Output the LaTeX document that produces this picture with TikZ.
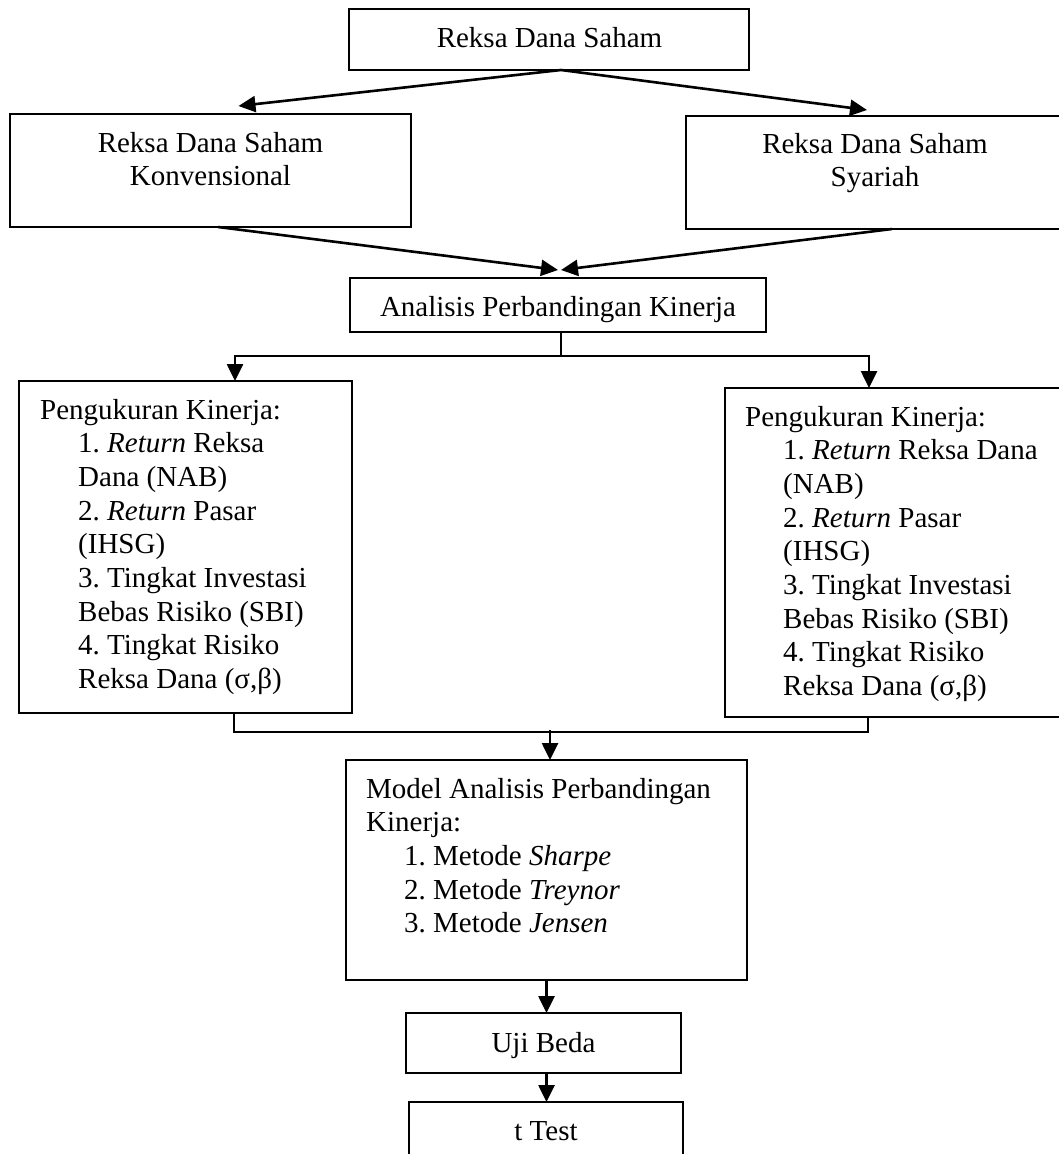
\documentclass[tikz,border=0pt]{standalone}
\usepackage{fontspec}
\setmainfont{Liberation Serif}
\usetikzlibrary{arrows.meta}
\frenchspacing
\begin{document}
\begin{tikzpicture}[x=1pt,y=-1pt,
  box/.style={draw, line width=2.2pt, rectangle, anchor=north west, inner sep=0pt, outer sep=0pt},
  txt/.style={font=\fontsize{29}{33.7}\selectfont\frenchspacing, inner sep=0pt, anchor=base},
  blk/.style={font=\fontsize{29}{33.7}\selectfont\frenchspacing, inner sep=0pt, anchor=base west},
  conn/.style={line width=2.6pt},
  arr/.style={line width=2.6pt, -{Triangle[length=17pt,width=16pt]}}]
\useasboundingbox (0,0) rectangle (1059,1154);
\clip (0,0) rectangle (1059,1154);

% boxes
\node[box, minimum width=400pt, minimum height=61pt]  (top)   at (349,9) {};
\node[box, minimum width=401pt, minimum height=113pt] (konv)  at (10,114) {};
\node[box, minimum width=400pt, minimum height=113pt] (syar)  at (686,116) {};
\node[box, minimum width=416pt, minimum height=54pt]  (anal)  at (350,278) {};
\node[box, minimum width=333pt, minimum height=332pt] (pk1)   at (19,381) {};
\node[box, minimum width=400pt, minimum height=329pt] (pk2)   at (725,388) {};
\node[box, minimum width=401pt, minimum height=220pt] (model) at (346,760) {};
\node[box, minimum width=275pt, minimum height=60pt]  (uji)   at (406,1013) {};
\node[box, minimum width=274pt, minimum height=90pt]  (ttest) at (409,1102) {};

% texts
\node[txt] (tTop) at (549.5,47) {Reksa Dana Saham};
\node[txt] (tKonv) at (210.5,152) {\parbox[t]{390pt}{\centering Reksa Dana Saham\\Konvensional}};
\node[txt] (tSyar) at (875,153) {\parbox[t]{390pt}{\centering Reksa Dana Saham\\Syariah}};
\node[txt] (tAnal) at (558,316) {Analisis Perbandingan Kinerja};
\node[blk] (tPk1) at (40,419) {\parbox[t]{320pt}{Pengukuran Kinerja:\\
\hspace*{38pt}1. \textit{Return} Reksa\\
\hspace*{38pt}Dana (NAB)\\
\hspace*{38pt}2. \textit{Return} Pasar\\
\hspace*{38pt}(IHSG)\\
\hspace*{38pt}3. Tingkat Investasi\\
\hspace*{38pt}Bebas Risiko (SBI)\\
\hspace*{38pt}4. Tingkat Risiko\\
\hspace*{38pt}Reksa Dana (σ,β)}};
\node[blk] (tPk2) at (745,426) {\parbox[t]{320pt}{Pengukuran Kinerja:\\
\hspace*{38pt}1. \textit{Return} Reksa Dana\\
\hspace*{38pt}(NAB)\\
\hspace*{38pt}2. \textit{Return} Pasar\\
\hspace*{38pt}(IHSG)\\
\hspace*{38pt}3. Tingkat Investasi\\
\hspace*{38pt}Bebas Risiko (SBI)\\
\hspace*{38pt}4. Tingkat Risiko\\
\hspace*{38pt}Reksa Dana (σ,β)}};
\node[blk] (tModel) at (366,798) {\parbox[t]{380pt}{Model Analisis Perbandingan\\
Kinerja:\\
\hspace*{38pt}1. Metode \textit{Sharpe}\\
\hspace*{38pt}2. Metode \textit{Treynor}\\
\hspace*{38pt}3. Metode \textit{Jensen}}};
\node[txt] (tUji) at (543.5,1052) {Uji Beda};
\node[txt] (tT) at (546,1140) {t Test};

% connectors
\draw[arr] ([xshift=12pt]top.south) -- ([xshift=28pt,yshift=8pt]konv.north);
\draw[arr] ([xshift=12pt]top.south) -- ([xshift=-19pt,yshift=6pt]syar.north);
\draw[arr] ([xshift=7.5pt]konv.south) -- ([yshift=8pt]anal.north);
\draw[arr] ([xshift=6pt]syar.south) -- ([xshift=3pt,yshift=8pt]anal.north);

\coordinate (j1) at (561,356);
\draw[conn] ([xshift=3pt]anal.south) -- (j1);
\draw[arr] (j1) -| ([xshift=49.5pt]pk1.north);
\draw[arr] (j1) -| ([xshift=-56pt]pk2.north);

\coordinate (j2) at (550,732);
\draw[conn] ([xshift=48.5pt]pk1.south) |- (j2) -| ([xshift=-57pt]pk2.south);
\draw[arr] ([yshift=2pt]j2) -- ([xshift=3.5pt]model.north);

\draw[arr] (model.south) -- (model.south |- uji.north);
\draw[arr] (model.south |- uji.south) -- (model.south |- ttest.north);
\end{tikzpicture}
\end{document}
